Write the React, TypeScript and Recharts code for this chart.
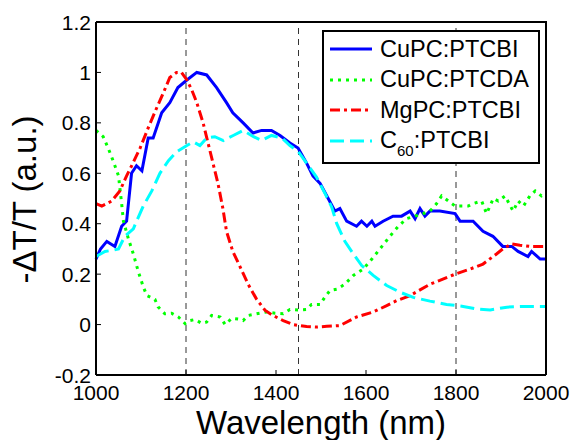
import { LineChart, Line, XAxis, YAxis, ReferenceLine, Legend } from "recharts";

const FONT = "'Liberation Sans', Arial, Helvetica, sans-serif";

const xTicks = [1000, 1200, 1400, 1600, 1800, 2000];
const yTicks = [-0.2, 0, 0.2, 0.4, 0.6, 0.8, 1, 1.2];
const markerLines = [1200, 1450, 1800];

// CuPC:PTCBI
const cupcPtcbiWl = [1000, 1010, 1024, 1042, 1057, 1068, 1079, 1090, 1102, 1116, 1127, 1146, 1164, 1182, 1202, 1224, 1246, 1268, 1290, 1304, 1327, 1349, 1368, 1390, 1409, 1431, 1449, 1468, 1482, 1498, 1513, 1531, 1542, 1557, 1579, 1590, 1602, 1613, 1620, 1638, 1660, 1679, 1698, 1709, 1720, 1731, 1742, 1764, 1798, 1809, 1838, 1860, 1882, 1904, 1924, 1938, 1960, 1968, 1987, 2000];
const cupcPtcbiVal = [0.26, 0.3, 0.33, 0.31, 0.39, 0.41, 0.6, 0.63, 0.61, 0.74, 0.74, 0.84, 0.88, 0.94, 0.97, 1.0, 0.99, 0.94, 0.88, 0.84, 0.8, 0.76, 0.77, 0.77, 0.75, 0.72, 0.7, 0.64, 0.59, 0.56, 0.51, 0.45, 0.46, 0.41, 0.39, 0.41, 0.39, 0.41, 0.39, 0.41, 0.43, 0.43, 0.45, 0.42, 0.46, 0.43, 0.45, 0.45, 0.44, 0.41, 0.41, 0.37, 0.35, 0.31, 0.31, 0.29, 0.27, 0.29, 0.26, 0.26];

// CuPC:PTCDA
const cupcPtcdaWl = [1000, 1016, 1027, 1038, 1050, 1057, 1061, 1072, 1083, 1094, 1105, 1113, 1131, 1138, 1153, 1168, 1183, 1198, 1209, 1220, 1235, 1246, 1257, 1276, 1287, 1302, 1316, 1327, 1338, 1357, 1379, 1398, 1416, 1431, 1450, 1468, 1479, 1498, 1509, 1520, 1535, 1553, 1572, 1594, 1613, 1631, 1653, 1672, 1690, 1709, 1727, 1742, 1757, 1768, 1783, 1798, 1813, 1827, 1838, 1857, 1868, 1883, 1894, 1909, 1927, 1938, 1950, 1964, 1976, 1990, 2000];
const cupcPtcdaVal = [0.77, 0.745, 0.7, 0.65, 0.59, 0.48, 0.41, 0.34, 0.28, 0.21, 0.15, 0.115, 0.1, 0.07, 0.043, 0.045, 0.03, 0.004, 0.016, 0.02, 0.005, 0.01, 0.036, 0.03, 0.0, 0.025, 0.022, 0.016, 0.036, 0.043, 0.05, 0.045, 0.043, 0.06, 0.058, 0.06, 0.08, 0.08, 0.11, 0.135, 0.14, 0.16, 0.195, 0.22, 0.26, 0.3, 0.35, 0.39, 0.42, 0.43, 0.44, 0.45, 0.48, 0.51, 0.49, 0.47, 0.47, 0.47, 0.48, 0.49, 0.44, 0.5, 0.49, 0.51, 0.45, 0.49, 0.47, 0.51, 0.53, 0.51, 0.52];

// MgPC:PTCBI
const mgpcPtcbiWl = [1000, 1013, 1035, 1053, 1068, 1082, 1098, 1116, 1135, 1150, 1164, 1179, 1190, 1202, 1213, 1224, 1238, 1249, 1260, 1271, 1282, 1290, 1304, 1320, 1338, 1357, 1376, 1393, 1416, 1438, 1468, 1490, 1513, 1542, 1579, 1616, 1646, 1668, 1698, 1742, 1764, 1798, 1831, 1860, 1890, 1904, 1924, 1942, 1964, 2000];
const mgpcPtcbiVal = [0.48, 0.47, 0.49, 0.53, 0.59, 0.64, 0.7, 0.78, 0.86, 0.92, 0.98, 1.0, 1.0, 0.97, 0.93, 0.88, 0.8, 0.72, 0.64, 0.56, 0.46, 0.37, 0.29, 0.23, 0.16, 0.1, 0.056, 0.036, 0.016, 0.0, -0.008, -0.01, -0.007, -0.004, 0.03, 0.05, 0.075, 0.095, 0.115, 0.16, 0.175, 0.2, 0.22, 0.24, 0.28, 0.3, 0.32, 0.315, 0.31, 0.31];

// C60:PTCBI
const c60PtcbiWl = [1000, 1020, 1038, 1050, 1064, 1083, 1105, 1124, 1142, 1161, 1179, 1202, 1216, 1231, 1246, 1264, 1283, 1305, 1327, 1350, 1368, 1390, 1413, 1431, 1450, 1468, 1490, 1509, 1524, 1535, 1553, 1572, 1590, 1616, 1646, 1676, 1705, 1742, 1779, 1816, 1846, 1876, 1913, 1950, 2000];
const c60PtcbiVal = [0.27, 0.29, 0.295, 0.3, 0.35, 0.38, 0.47, 0.53, 0.6, 0.65, 0.685, 0.71, 0.725, 0.71, 0.74, 0.745, 0.73, 0.75, 0.77, 0.745, 0.73, 0.75, 0.74, 0.71, 0.685, 0.64, 0.585, 0.52, 0.465, 0.4, 0.33, 0.28, 0.235, 0.195, 0.155, 0.128, 0.108, 0.093, 0.08, 0.072, 0.062, 0.058, 0.069, 0.072, 0.072];

const zip = (wl: number[], val: number[]) => wl.map((x, i) => ({ x, y: val[i] }));

const series = [
  { key: "cupcPtcbi", name: "CuPC:PTCBI", data: zip(cupcPtcbiWl, cupcPtcbiVal), color: "#0000ff", dash: undefined as string | undefined },
  { key: "cupcPtcda", name: "CuPC:PTCDA", data: zip(cupcPtcdaWl, cupcPtcdaVal), color: "#00ff00", dash: "3 5" },
  { key: "mgpcPtcbi", name: "MgPC:PTCBI", data: zip(mgpcPtcbiWl, mgpcPtcbiVal), color: "#ff0000", dash: "10 4 3 4" },
  { key: "c60Ptcbi", name: "C60:PTCBI", data: zip(c60PtcbiWl, c60PtcbiVal), color: "#00ffff", dash: "14 6" },
];

const TICK_LEN = 5;

const BottomTick = (props: any) => {
  const { x, y, payload } = props;
  return (
    <g>
      <line x1={x} y1={y} x2={x} y2={y - TICK_LEN} stroke="#000" strokeWidth={1} />
      <text x={x} y={y + 25} textAnchor="middle" fontSize={21} fontFamily={FONT} fill="#000">
        {payload.value}
      </text>
    </g>
  );
};

const LeftTick = (props: any) => {
  const { x, y, payload } = props;
  return (
    <g>
      <line x1={x} y1={y} x2={x + TICK_LEN} y2={y} stroke="#000" strokeWidth={1} />
      <text x={x - 5} y={y + 7.5} textAnchor="end" fontSize={21} fontFamily={FONT} fill="#000">
        {String(payload.value)}
      </text>
    </g>
  );
};

const XLabel = (props: any) => {
  const vb = props.viewBox;
  return (
    <text x={vb.x + vb.width / 2} y={vb.y + 59} textAnchor="middle" fontSize={33} fontFamily={FONT} fill="#000">
      Wavelength (nm)
    </text>
  );
};

const YLabel = (props: any) => {
  const vb = props.viewBox;
  const cx = vb.x + 36;
  const cy = vb.y + vb.height / 2 + 1;
  return (
    <text x={cx} y={cy} transform={`rotate(-90 ${cx} ${cy})`} textAnchor="middle" fontSize={33} fontFamily={FONT} fill="#000">
      -ΔT/T (a.u.)
    </text>
  );
};

const LegendBox = () => (
  <div
    style={{
      boxSizing: "border-box",
      width: 218,
      height: 134,
      border: "2px solid #000",
      background: "#fff",
      padding: "2px 0 0 6px",
      fontFamily: FONT,
      fontSize: 23.5,
      color: "#000",
    }}
  >
    {series.map((s) => (
      <div key={s.key} style={{ display: "flex", alignItems: "center", height: 30.5 }}>
        <svg width={42} height={6} style={{ display: "block" }}>
          <line x1={0} y1={3} x2={42} y2={3} stroke={s.color} strokeWidth={3} strokeDasharray={s.dash} />
        </svg>
        <span style={{ marginLeft: 8, lineHeight: 1, whiteSpace: "nowrap" }}>
          {s.key === "c60Ptcbi" ? (
            <>
              C<span style={{ fontSize: 15, position: "relative", top: 8 }}>60</span>:PTCBI
            </>
          ) : (
            s.name
          )}
        </span>
      </div>
    ))}
  </div>
);

export default function App() {
  return (
    <div style={{ position: "absolute", left: 0, top: 0, width: 572, height: 440, background: "#fff" }}>
      <LineChart width={572} height={440} margin={{ top: 22, right: 26, bottom: 0, left: 0 }}>
        <XAxis
          dataKey="x"
          type="number"
          domain={[1000, 2000]}
          ticks={xTicks}
          interval={0}
          height={65}
          tickSize={0}
          tickMargin={0}
          tick={BottomTick}
          axisLine={{ stroke: "#000", strokeWidth: 2 }}
          label={{ content: XLabel }}
        />
        <YAxis
          type="number"
          domain={[-0.2, 1.2]}
          ticks={yTicks}
          interval={0}
          width={96}
          tickSize={0}
          tickMargin={0}
          tick={LeftTick}
          axisLine={{ stroke: "#000", strokeWidth: 2 }}
          label={{ content: YLabel }}
        />
        {markerLines.map((v) => (
          <ReferenceLine key={v} x={v} stroke="#333" strokeWidth={1} strokeDasharray="6 5" />
        ))}
        {series.map((s) => (
          <Line
            key={s.key}
            data={s.data}
            dataKey="y"
            name={s.name}
            type="linear"
            stroke={s.color}
            strokeWidth={3}
            strokeDasharray={s.dash}
            dot={false}
            activeDot={false}
            isAnimationActive={false}
          />
        ))}
        <Legend
          layout="vertical"
          align="center"
          verticalAlign="middle"
          wrapperStyle={{ left: 322, top: 30, width: 218, height: 134 }}
          content={LegendBox}
        />
      </LineChart>
      {/* top and right edges of the axes box */}
      <div
        style={{
          position: "absolute",
          left: 96,
          top: 21,
          width: 451,
          height: 354,
          boxSizing: "border-box",
          borderTop: "2px solid #000",
          borderRight: "2px solid #000",
          pointerEvents: "none",
        }}
      />
    </div>
  );
}
